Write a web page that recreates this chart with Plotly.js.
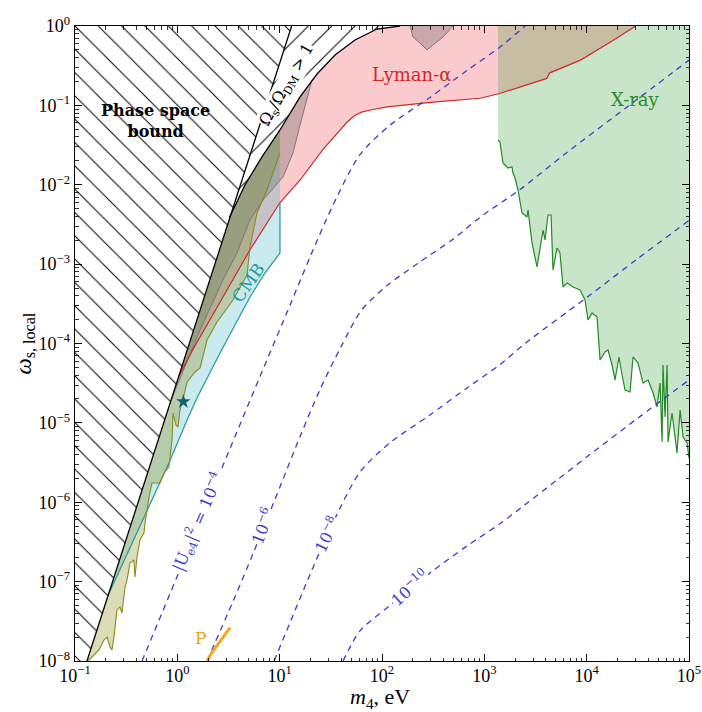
<!DOCTYPE html>
<html>
<head>
<meta charset="utf-8">
<script src="https://cdn.plot.ly/plotly-3.0.1.min.js"></script>
<style>
html,body{margin:0;padding:0;background:#ffffff;}
#chart{width:702px;height:712px;}
</style>
</head>
<body>
<div id="chart"></div>
<script>
// All values below are log10(m4 / eV) and log10(omega_s,local).
const phaseLogM = [-0.883, 1.117];
const phaseLogW = [-8.0, 0.0];

const omegaLogM = [0.51, 0.661, 0.827, 1.003, 1.199, 1.365, 1.541, 1.736, 1.951, 2.176];
const omegaLogW = [-2.41, -2.003, -1.650, -1.310, -0.894, -0.605, -0.365, -0.176, -0.038, 0.0];

const redLogM = [-0.07, 0.15, 0.39, 0.71, 1.00, 1.20, 1.42, 1.59, 1.66, 1.73, 1.80, 1.90, 2.05, 2.50, 2.96, 3.15, 3.40, 3.61, 3.64, 3.94, 4.26, 4.48];
const redLogW = [-4.62, -4.08, -3.54, -2.82, -2.23, -1.94, -1.56, -1.31, -1.21, -1.13, -1.085, -1.055, -1.02, -0.96, -0.91, -0.85, -0.75, -0.66, -0.59, -0.43, -0.18, 0.0];

const greyLogM = [-0.101, 0.222, 0.446, 0.583, 0.710, 0.837, 1.033, 1.130, 1.199, 1.267, 1.316, 1.414, 1.511];
const greyLogW = [-4.838, -3.830, -3.200, -2.860, -2.444, -2.192, -1.902, -1.600, -1.247, -0.932, -0.680, -0.454, -0.340];
const greyTopLogM = [2.274, 2.303, 2.371, 2.440, 2.499, 2.597, 2.694];
const greyTopLogW = [0.0, -0.139, -0.214, -0.302, -0.239, -0.139, 0.0];

const oliveLogM = [-0.873, -0.834, -0.766, -0.717, -0.687, -0.658, -0.639, -0.619, -0.590, -0.560, -0.541, -0.511, -0.492, -0.463, -0.424, -0.414, -0.394, -0.365, -0.326, -0.316, -0.277, -0.248, -0.170, -0.130, -0.082, -0.052, -0.042, -0.013, 0.007, 0.026, 0.046, 0.095, 0.173, 0.222, 0.290, 0.388, 0.544, 0.681, 0.710, 0.778, 0.876, 1.003];
const oliveLogW = [-8.0, -7.950, -7.861, -7.735, -7.698, -7.824, -7.861, -7.698, -7.357, -7.320, -7.395, -7.068, -6.980, -6.765, -6.728, -6.942, -6.690, -6.476, -6.387, -6.261, -5.934, -5.758, -5.758, -5.631, -5.556, -5.216, -4.876, -5.027, -5.052, -4.838, -4.750, -4.485, -4.359, -4.309, -3.956, -3.729, -3.452, -3.137, -2.784, -2.356, -2.066, -1.600];

const tealLogM = [-0.756, -0.414, -0.082, 0.095, 0.192, 0.417, 0.710, 0.856, 1.003];
const tealLogW = [-7.395, -6.438, -5.506, -4.964, -4.687, -4.120, -3.414, -3.112, -2.860];

const xrayLogM = [3.134, 3.153, 3.182, 3.231, 3.270, 3.280, 3.300, 3.329, 3.368, 3.417, 3.427, 3.466, 3.515, 3.544, 3.574, 3.593, 3.622, 3.652, 3.671, 3.710, 3.739, 3.769, 3.808, 3.867, 3.935, 3.984, 4.013, 4.053, 4.101, 4.131, 4.180, 4.209, 4.248, 4.277, 4.316, 4.346, 4.375, 4.424, 4.453, 4.502, 4.551, 4.600, 4.649, 4.688, 4.717, 4.737, 4.746, 4.766, 4.786, 4.795, 4.834, 4.883, 4.913, 4.942, 4.981, 5.0];
const xrayLogW = [-1.436, -1.461, -1.726, -1.789, -1.776, -1.852, -1.915, -2.066, -2.356, -2.406, -2.318, -2.734, -3.036, -2.784, -2.570, -2.696, -2.381, -2.381, -3.074, -2.797, -2.860, -3.288, -3.238, -3.288, -3.326, -3.452, -3.704, -3.616, -3.666, -4.208, -4.107, -4.082, -4.271, -4.460, -4.170, -4.397, -4.586, -4.611, -4.170, -4.246, -4.498, -4.460, -4.624, -4.800, -4.498, -5.241, -4.271, -4.926, -4.271, -5.241, -4.876, -5.380, -4.838, -5.178, -5.254, -5.443];

const u4LogM = [-0.345, 0.0, 0.40, 0.80, 1.10, 1.30, 1.52, 1.785, 2.078, 2.469, 2.831, 3.153, 3.398];
const u4LogW = [-8.0, -6.93, -5.68, -4.44, -3.52, -2.90, -2.26, -1.62, -1.25, -0.90, -0.56, -0.265, 0.0];
const u6LogM = [0.290, 0.544, 0.739, 0.974, 1.20, 1.394, 1.60, 1.80, 2.05, 2.35, 2.70, 2.958, 3.349, 3.80, 4.395, 5.0];
const u6LogW = [-8.0, -7.25, -6.65, -5.90, -5.17, -4.58, -4.04, -3.58, -3.27, -2.99, -2.68, -2.41, -2.06, -1.60, -1.02, -0.43];
const u8LogM = [0.945, 1.10, 1.30, 1.52, 1.785, 2.078, 2.469, 2.831, 3.153, 3.398, 4.0, 4.5, 5.0];
const u8LogW = [-8.0, -7.52, -6.90, -6.26, -5.62, -5.25, -4.90, -4.56, -4.265, -4.0, -3.42, -2.93, -2.45];
const u10LogM = [1.62, 1.785, 2.078, 2.469, 2.831, 3.153, 3.398, 3.71, 4.0, 4.5, 5.0];
const u10LogW = [-8.0, -7.62, -7.30, -6.89, -6.55, -6.27, -6.03, -5.72, -5.43, -4.94, -4.46];

const pLogM = [0.290, 0.339, 0.515];
const pLogW = [-8.0, -7.89, -7.58];
const starLogM = [0.059];
const starLogW = [-4.733];

const xTickVals = [0.1, 1, 10, 100, 1000, 10000, 100000];
const xTickText = ['10<sup>−1</sup>', '10<sup>0</sup>', '10<sup>1</sup>', '10<sup>2</sup>', '10<sup>3</sup>', '10<sup>4</sup>', '10<sup>5</sup>'];
const yTickVals = [1e-8, 1e-7, 1e-6, 1e-5, 1e-4, 1e-3, 1e-2, 1e-1, 1];
const yTickText = ['10<sup>−8</sup>', '10<sup>−7</sup>', '10<sup>−6</sup>', '10<sup>−5</sup>', '10<sup>−4</sup>', '10<sup>−3</sup>', '10<sup>−2</sup>', '10<sup>−1</sup>', '10<sup>0</sup>'];

const F = 'Liberation Serif, Times New Roman, serif';
const FA = 'DejaVu Serif, serif';
const p10 = a => a.map(v => Math.pow(10, v));
const rev = a => a.slice().reverse();

function fillTrace(lm, lw, color, pattern) {
  const t = {x: p10(lm), y: p10(lw), mode: 'lines', fill: 'toself', fillcolor: color,
    line: {width: 0, color: 'rgba(0,0,0,0)'}, hoverinfo: 'skip', showlegend: false};
  if (pattern) t.fillpattern = pattern;
  return t;
}
function lineTrace(lm, lw, color, width, dash, shape) {
  return {x: p10(lm), y: p10(lw), mode: 'lines',
    line: {color: color, width: width, dash: dash || 'solid', shape: shape || 'linear', smoothing: 0.8},
    hoverinfo: 'skip', showlegend: false};
}

const traces = [];
// Lyman-alpha (pink)
traces.push(fillTrace(redLogM.concat([4.48, -1.1, -1.1]), redLogW.concat([0.1, 0.1, -4.62]), 'rgba(240,50,60,0.26)'));
// X-ray (green)
traces.push(fillTrace([3.134].concat(xrayLogM, [5.1, 5.1]), [0.1].concat(xrayLogW, [-5.443, 0.1]), 'rgba(40,150,40,0.25)'));
// grey region
traces.push(fillTrace(greyLogM.concat(omegaLogM.slice(6), greyTopLogM, [-1.1, -1.1]),
  greyLogW.concat(omegaLogW.slice(6), greyTopLogW, [0.1, -4.838]), 'rgba(90,90,90,0.3)'));
// CMB (cyan)
traces.push(fillTrace(tealLogM.concat([1.003, -1.1, -1.1]), tealLogW.concat([0.1, 0.1, -7.395]), 'rgba(40,170,190,0.25)'));
// olive region
traces.push(fillTrace([-0.88].concat(oliveLogM, [1.003, -1.1, -1.1]), [-8.1].concat(oliveLogW, [0.1, 0.1, -8.1]), 'rgba(128,128,0,0.28)'));

// boundary lines
traces.push(lineTrace(greyLogM, greyLogW, '#7a7a7a', 1));
traces.push(lineTrace(greyTopLogM, greyTopLogW, '#7a7a7a', 1));
traces.push(lineTrace(redLogM, redLogW, '#cc2a2a', 1.2));
traces.push(lineTrace(tealLogM.concat([1.003]), tealLogW.concat([-2.23]), '#1f9a9a', 1.2));
traces.push(lineTrace(oliveLogM, oliveLogW, '#8a8a1a', 1.1));
traces.push(lineTrace(xrayLogM, xrayLogW, '#228b22', 1.2));

// Omega_s/Omega_DM > 1 band (white with / hatch)
traces.push(fillTrace([omegaLogM[0], phaseLogM[1]].concat(rev(omegaLogM)), [omegaLogW[0], phaseLogW[1]].concat(rev(omegaLogW)), 'white',
  {shape: '/', fgcolor: 'black', bgcolor: 'white', size: 16.5, solidity: 0.06, fillmode: 'replace'}));
// Phase space bound (white with \ hatch)
traces.push(fillTrace([-1.1, -0.908, 1.142, -1.1], [-8.1, -8.1, 0.1, 0.1], 'white',
  {shape: '\\', fgcolor: 'black', bgcolor: 'white', size: 16.5, solidity: 0.06, fillmode: 'replace'}));
traces.push(lineTrace(phaseLogM, phaseLogW, 'black', 1.3));
traces.push(lineTrace(omegaLogM, omegaLogW, 'black', 1.3));

// |U_e4|^2 contours
const blue = '#3c3cc8';
[[u4LogM, u4LogW], [u6LogM, u6LogW], [u8LogM, u8LogW], [u10LogM, u10LogW]].forEach(c => {
  traces.push(lineTrace(c[0], c[1], blue, 1.3, '6px,5px', 'spline'));
});

// P line and star
traces.push(lineTrace(pLogM, pLogW, '#f5a623', 3));
traces.push({x: p10(starLogM), y: p10(starLogW), mode: 'markers',
  marker: {symbol: 'star', size: 11, color: '#1a5f6e'}, hoverinfo: 'skip', showlegend: false});

function ann(x, y, text, color, size, angle, bg) {
  return {xref: 'x', yref: 'y', x: x, y: y, text: text, showarrow: false,
    font: {family: FA, size: size, color: color}, textangle: angle || 0,
    bgcolor: bg || 'rgba(0,0,0,0)', borderpad: 0};
}
const annotations = [
  ann(-0.218, -1.197, '<b>Phase space</b><br><b>bound</b>', 'black', 16, 0),
  ann(1.075, -0.74, 'Ω<sub>s</sub>/Ω<sub>DM</sub> > 1', 'black', 16, -60, 'white'),
  ann(2.293, -0.605, 'Lyman-α', '#cc2a2a', 18, 0),
  ann(4.482, -0.932, 'X-ray', '#2a8a2a', 18, 0),
  ann(0.691, -3.238, 'CMB', '#1f9a9a', 17, -55),
  ann(0.231, -7.71, 'P', '#f0a020', 17, 0),
  ann(0.205, -6.24, '|U<sub>e4</sub>|<sup>2</sup> = 10<sup>−4</sup>', blue, 16, -67, 'white'),
  ann(0.83, -6.30, '10<sup>−6</sup>', blue, 16, -69, 'white'),
  ann(1.46, -6.40, '10<sup>−8</sup>', blue, 16, -64, 'white'),
  ann(2.274, -7.08, '10<sup>−10</sup>', blue, 16, -42, 'white'),
  {xref: 'paper', yref: 'paper', x: 0.497, y: -0.058, xanchor: 'center', yanchor: 'middle', showarrow: false,
    text: '<i>m</i><sub>4</sub>, eV', font: {family: F, size: 22, color: 'black'}},
  {xref: 'paper', yref: 'paper', x: -0.083, y: 0.5, xanchor: 'center', yanchor: 'middle', showarrow: false,
    textangle: -90, text: '<i>ω</i><sub>s, local</sub>', font: {family: F, size: 23, color: 'black'}}
];

const axisCommon = {
  type: 'log', showgrid: false, zeroline: false, showline: true, linecolor: 'black', linewidth: 1.4,
  mirror: 'allticks', ticks: 'inside', ticklen: 7, tickwidth: 1, tickcolor: 'black',
  tickmode: 'array', tickfont: {family: F, size: 18, color: 'black'}, ticklabeloverflow: 'allow',
  minor: {ticks: 'inside', ticklen: 3.5, tickwidth: 0.8, tickcolor: 'black', dtick: 'D1', showgrid: false}
};

const layout = {
  width: 702, height: 712,
  margin: {l: 75, r: 13, t: 26, b: 51},
  paper_bgcolor: 'white', plot_bgcolor: 'white',
  showlegend: false,
  font: {family: F, color: 'black'},
  xaxis: Object.assign({}, axisCommon, {range: [-1, 5], tickvals: xTickVals, ticktext: xTickText, ticklabelstandoff: -2}),
  yaxis: Object.assign({}, axisCommon, {range: [-8, 0], tickvals: yTickVals, ticktext: yTickText}),
  annotations: annotations
};

Plotly.newPlot('chart', traces, layout, {displayModeBar: false, staticPlot: true});
</script>
</body>
</html>
